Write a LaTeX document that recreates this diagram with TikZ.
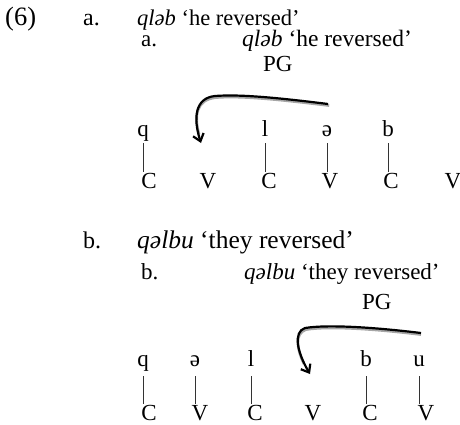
\documentclass[tikz,border=0pt]{standalone}
\usepackage{fontspec}
\setmainfont{Liberation Serif}
\usetikzlibrary{arrows.meta}

\begin{document}
\begin{tikzpicture}[x=1pt, y=-1pt,
    font=\fontsize{23}{27}\selectfont,
    txt/.style={anchor=base west, inner sep=0pt},
    seg/.style={anchor=base, inner sep=0pt, text height=0.7em, text depth=0.22em},
    assoc/.style={line width=0.5pt, black!80, shorten <=5pt, shorten >=9pt},
    pgline/.style={line width=2.2pt, -{Straight Barb[length=7pt, width=11pt, line width=2.2pt]}},
    pgshade/.style={line width=2.6pt, black!35}]

    \useasboundingbox (0,0) rectangle (460,424);

    % Example (6a)
    \node[txt, font=\fontsize{26.5}{30}\selectfont] (ex) at (5,25) {(6)};
    \node[txt, font=\fontsize{24}{28}\selectfont] (a1) at (83,25) {a.};
    \node[txt, font=\fontsize{22.5}{26}\selectfont] (ga1) at (137,25) {\textit{qləb} `he reversed'};
    \node[txt] (a2) at (141,46) {a.};
    \node[txt, font=\fontsize{23.5}{28}\selectfont] (ga2) at (242,46) {\textit{qləb} `he reversed'};
    \node[txt] (pga) at (263,71) {PG};

    % Segments and skeleton for (6a)
    \node[seg] (qa) at (143,136) {q};
    \node[seg] (la) at (265,136) {l};
    \node[seg] (sa) at (327,136) {ə};
    \node[seg] (ba) at (388,136) {b};
    \node[seg] (ca1) at (149,188) {C};
    \node[seg] (va1) at (208,188) {V};
    \node[seg] (ca2) at (269,188) {C};
    \node[seg] (va2) at (330,188) {V};
    \node[seg] (ca3) at (391,188) {C};
    \node[seg] (va3) at (453,188) {V};

    \draw[assoc] (qa.south) -- (qa.south |- ca1.north);
    \draw[assoc] (la.south) -- (la.south |- ca2.north);
    \draw[assoc] (sa.south) -- (sa.south |- va2.north);
    \draw[assoc] (ba.south) -- (ba.south |- ca3.north);

    % Vowel moves left
    \coordinate (pga-start) at (328,104);
    \coordinate (pga-end) at (201,143);
    \draw[pgshade] ([shift={(1.2,1.6)}]pga-start) .. controls (280,99.6) and (240,95.6) .. (216,97.6)
        .. controls (196,99.6) and (194,116) .. (199,134);
    \draw[pgline] (pga-start) .. controls (280,98) and (240,94) .. (215,96)
        .. controls (195,98) and (193,118) .. (pga-end);

    % Example (6b)
    \node[txt, font=\fontsize{24}{28}\selectfont] (b1) at (83,248) {b.};
    \node[txt, font=\fontsize{25.5}{30}\selectfont] (gb1) at (137,248) {\textit{qəlbu} `they reversed'};
    \node[txt] (b2) at (141,279) {b.};
    \node[txt] (gb2) at (244,279) {\textit{qəlbu} `they reversed'};
    \node[txt] (pgb) at (362,309) {PG};

    % Segments and skeleton for (6b)
    \node[seg] (qb) at (143,366) {q};
    \node[seg] (sb) at (195,366) {ə};
    \node[seg] (lb) at (251,366) {l};
    \node[seg] (bb) at (366,366) {b};
    \node[seg] (ub) at (419,366) {u};
    \node[seg] (cb1) at (149,420) {C};
    \node[seg] (vb1) at (200,420) {V};
    \node[seg] (cb2) at (255,420) {C};
    \node[seg] (vb2) at (313,420) {V};
    \node[seg] (cb3) at (370,420) {C};
    \node[seg] (vb3) at (426,420) {V};

    \draw[assoc, shorten <=8pt] (qb.south) -- (qb.south |- cb1.north);
    \draw[assoc, shorten <=8pt] (sb.south) -- (sb.south |- vb1.north);
    \draw[assoc, shorten <=8pt] (lb.south) -- (lb.south |- cb2.north);
    \draw[assoc, shorten <=8pt] (bb.south) -- (bb.south |- cb3.north);
    \draw[assoc, shorten <=8pt] (ub.south) -- (ub.south |- vb3.north);

    % Vowel moves left
    \coordinate (pgb-start) at (421,333);
    \coordinate (pgb-end) at (310,374);
    \draw[pgshade] ([shift={(0,1.6)}]pgb-start) .. controls (380,329.6) and (330,325.6) .. (306,329.6)
        .. controls (294,333.6) and (297,350) .. (304,364);
    \draw[pgline] (pgb-start) .. controls (380,328) and (330,324) .. (305,328)
        .. controls (293,332) and (297,352) .. (pgb-end);
\end{tikzpicture}
\end{document}
